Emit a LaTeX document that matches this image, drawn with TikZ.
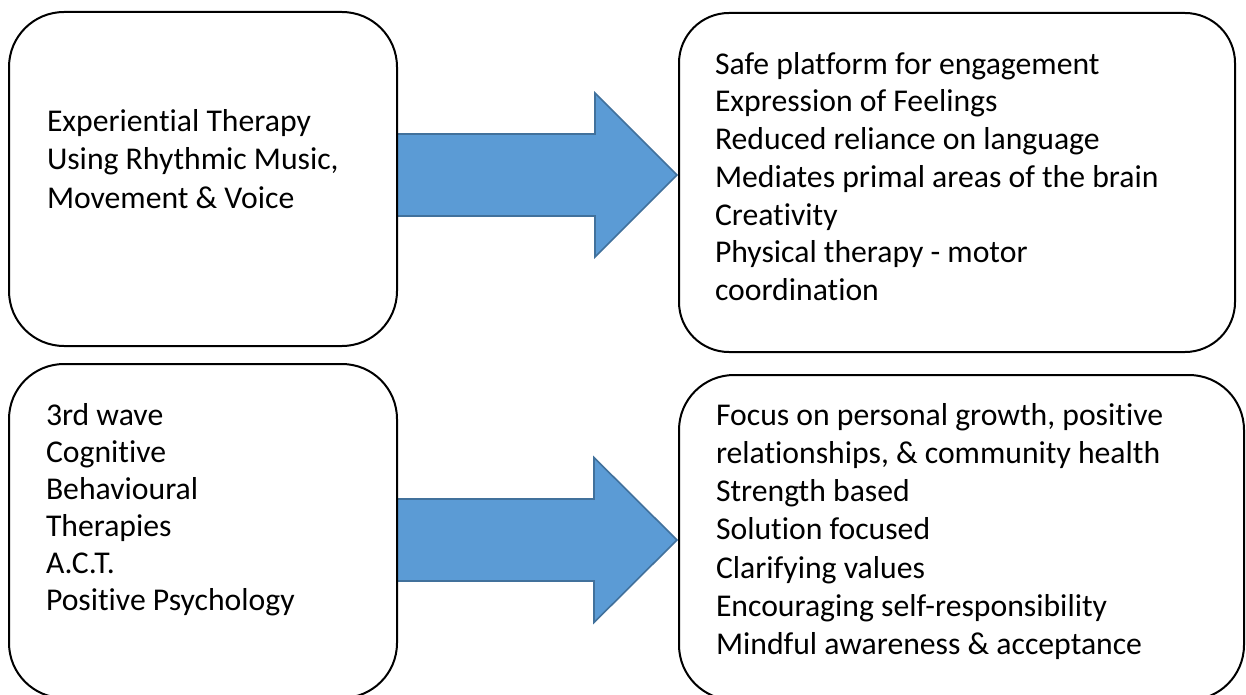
\documentclass[tikz,border=0pt]{standalone}
\usepackage{fontspec}
\setmainfont[Ligatures={NoCommon}]{Carlito}
\usetikzlibrary{calc}
\pgfdeclarelayer{background}
\pgfsetlayers{background,main}
\definecolor{arrowfill}{HTML}{5B9BD5}
\definecolor{arrowline}{HTML}{41719C}
\newcommand{\txtrow}[1]{\hbox{#1}}
\tikzset{
  panel/.style={draw=black, line width=2pt, rounded corners=55pt, rectangle,
    outer sep=0pt, inner sep=0pt, anchor=north west},
  bigarrow/.style={fill=arrowfill, draw=arrowline, line width=1.6pt, line join=miter},
  txt/.style={anchor=base west, inner sep=0pt, outer sep=0pt,
    font=\fontsize{31.7}{38}\selectfont},
}
\begin{document}
\begin{tikzpicture}[x=1pt, y=-1pt]
\useasboundingbox (0,0) rectangle (1246,695);
\clip (0,0) rectangle (1246,695);

% boxes
\node[panel, minimum width=388pt, minimum height=334pt] (b1) at (9,12) {};
\node[panel, minimum width=388pt, minimum height=334pt] (b2) at (9,364) {};
\node[panel, minimum width=556pt, minimum height=339pt, rounded corners=50pt] (b3) at (679,13) {};
\node[panel, minimum width=565pt, minimum height=325pt] (b4) at (679,375) {};

% arrows (connectors from left boxes to right boxes)
\path (b3.west) ++(-2,-7.5) coordinate (e1);
\path (b1.east |- e1) coordinate (s1);
\path (b4.west) ++(-2,2.5) coordinate (e2);
\path (b2.east |- e2) coordinate (s2);
\begin{pgfonlayer}{background}
\fill[white] (0,0) rectangle (1246,695);
\draw[bigarrow] ($(s1)+(0,-41)$) -- ($(e1)+(-82,-41)$) -- ($(e1)+(-82,-82)$) -- (e1)
  -- ($(e1)+(-82,82)$) -- ($(e1)+(-82,41)$) -- ($(s1)+(0,41)$) -- cycle;
\draw[bigarrow] ($(s2)+(0,-41)$) -- ($(e2)+(-83,-41)$) -- ($(e2)+(-83,-82.5)$) -- (e2)
  -- ($(e2)+(-83,82.5)$) -- ($(e2)+(-83,41)$) -- ($(s2)+(0,41)$) -- cycle;
\end{pgfonlayer}

% texts
\node[txt] (t1) at (47,131.7) {\vtop{\baselineskip=38.3pt
  \txtrow{Experiential Therapy}\txtrow{Using Rhythmic Music,}\txtrow{Movement \& Voice}}};
\node[txt] (t2) at (46,425) {\vtop{\baselineskip=37pt
  \txtrow{3rd wave}\txtrow{Cognitive}\txtrow{Behavioural}\txtrow{Therapies}\txtrow{A.C.T.}\txtrow{Positive Psychology}}};
\node[txt] (t3) at (715,74.3) {\vtop{\baselineskip=37.7pt
  \txtrow{Safe platform for engagement}\txtrow{Expression of Feelings}\txtrow{Reduced reliance on language}\txtrow{Mediates primal areas of the brain}\txtrow{Creativity}\txtrow{Physical therapy - motor}\txtrow{coordination}}};
\node[txt] (t4) at (716,425) {\vtop{\baselineskip=38.3pt
  \txtrow{Focus on personal growth, positive}\txtrow{relationships, \& community health}\txtrow{Strength based}\txtrow{Solution focused}\txtrow{Clarifying values}\txtrow{Encouraging self-responsibility}\txtrow{Mindful awareness \& acceptance}}};
\end{tikzpicture}
\end{document}
